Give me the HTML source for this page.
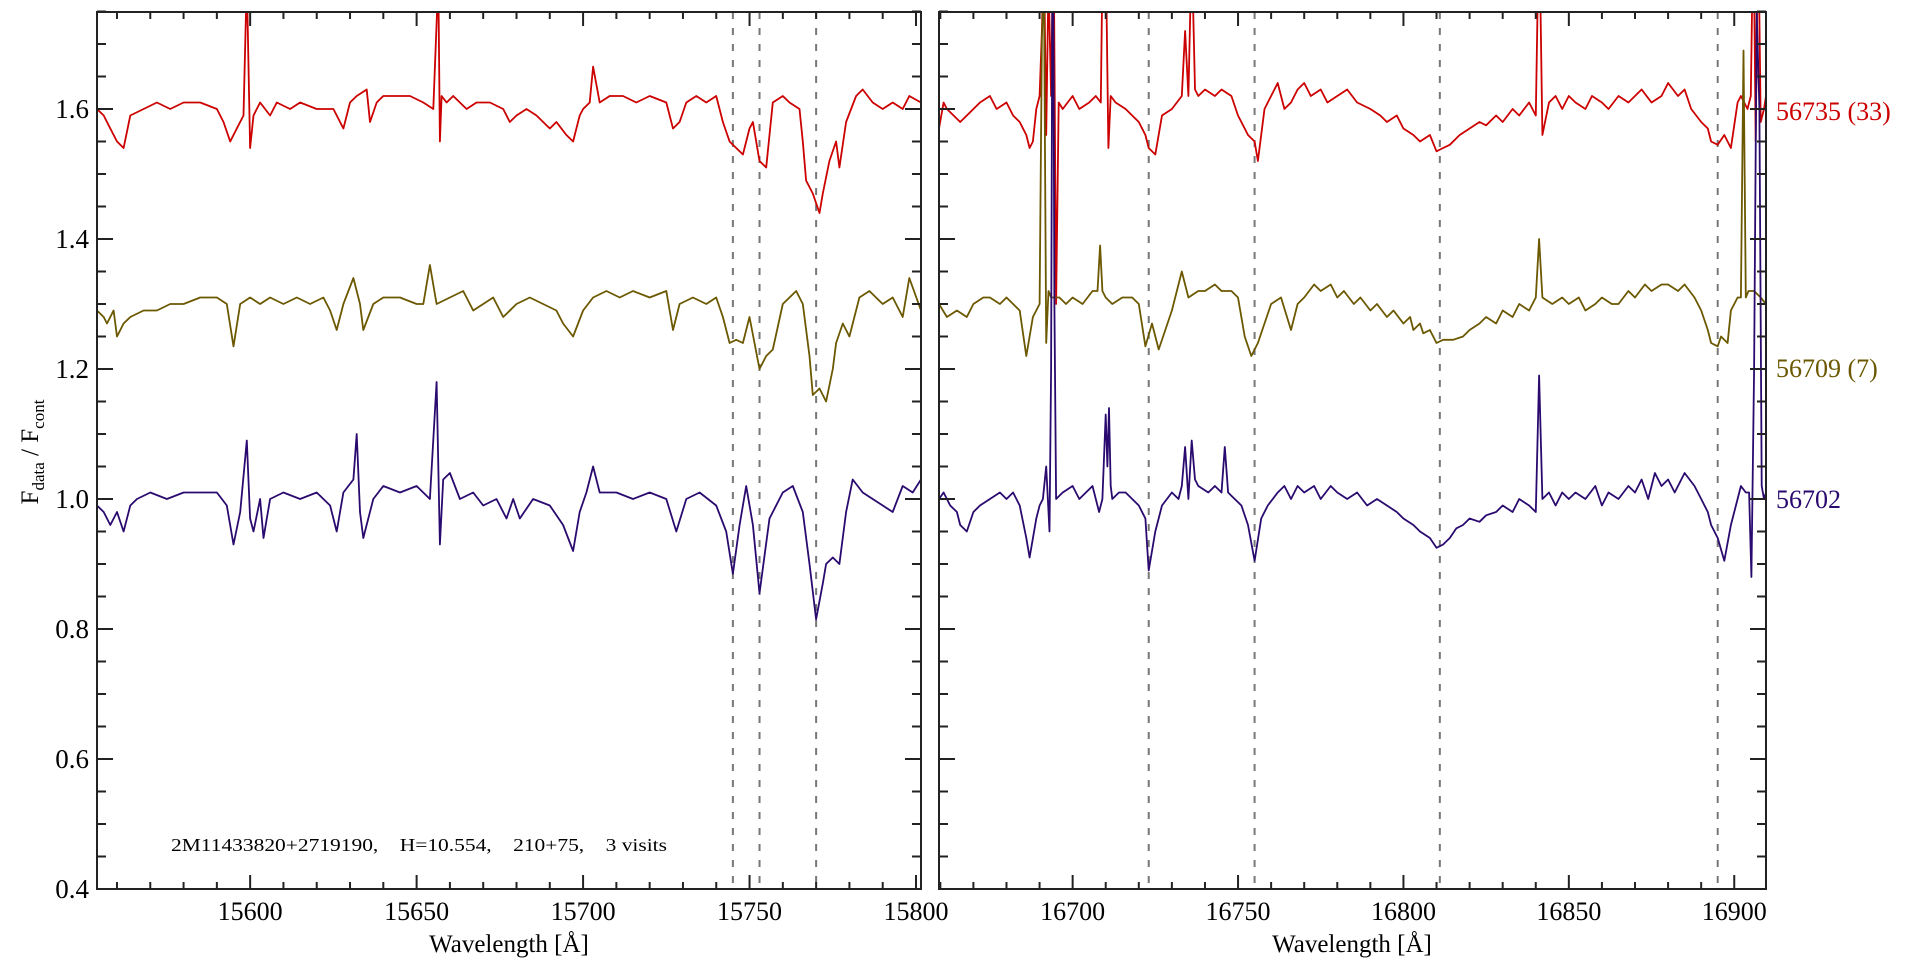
<!DOCTYPE html>
<html><head><meta charset="utf-8"><style>
html,body{margin:0;padding:0;background:#fff;}
svg{display:block;font-family:"Liberation Serif","DejaVu Serif",serif;}
</style></head><body>
<svg id="chart" width="1920" height="960" viewBox="0 0 1920 960" xmlns="http://www.w3.org/2000/svg">
<defs>
<clipPath id="clipL"><rect x="97" y="12" width="824" height="877"/></clipPath>
<clipPath id="clipR"><rect x="939" y="12" width="827" height="877"/></clipPath>
</defs>
<g id="root"></g>
<text transform="translate(38,452) rotate(-90)" text-anchor="middle" font-size="25" fill="#000">F<tspan font-size="17" dy="6">data</tspan><tspan dy="-6"> / F</tspan><tspan font-size="17" dy="6">cont</tspan></text>
<text x="509" y="952" text-anchor="middle" font-size="25" fill="#000">Wavelength [Å]</text>
<text x="1352" y="952" text-anchor="middle" font-size="25" fill="#000">Wavelength [Å]</text>
<text x="171" y="851" font-size="18" fill="#000" style="white-space:pre" xml:space="preserve" textLength="496" lengthAdjust="spacingAndGlyphs">2M11433820+2719190,    H=10.554,    210+75,    3 visits</text>
<text x="1776" y="120" font-size="26" fill="#cc0000">56735 (33)</text>
<text x="1776" y="377" font-size="26" fill="#6b5800">56709 (7)</text>
<text x="1776" y="508" font-size="26" fill="#2a0a6e">56702</text>
</svg>
<script>
// ---- data ----
const yTicks = [0.4,0.6,0.8,1.0,1.2,1.4,1.6];
const xTicksLeft = [15600,15650,15700,15750,15800];
const xTicksRight = [16700,16750,16800,16850,16900];
const dashedLeft = [15745,15753,15770];
const dashedRight = [16723,16755,16811,16895];

const wlBlueL = [15554,15556,15558,15560,15562,15564,15566,15570,15575,15580,15585,15590,15593,15595,15597,15599,15600,15601,15603,15604,15606,15610,15615,15620,15624,15626,15628,15631,15632,15633,15634,15637,15640,15645,15650,15654,15656,15657,15658,15660,15663,15667,15670,15674,15677,15679,15681,15685,15690,15694,15697,15699,15701,15703,15705,15710,15715,15720,15725,15728,15731,15735,15740,15743,15745,15747,15749,15751,15753,15756,15760,15763,15766,15768,15770,15772,15773,15775,15777,15779,15781,15784,15787,15790,15793,15796,15799,15801.5];
const fxBlueL = [0.99,0.98,0.96,0.98,0.95,0.99,1.00,1.01,1.00,1.01,1.01,1.01,0.99,0.93,0.98,1.09,0.97,0.95,1.00,0.94,1.00,1.01,1.00,1.01,0.99,0.95,1.01,1.03,1.10,0.98,0.94,1.00,1.02,1.01,1.02,1.00,1.18,0.93,1.03,1.04,1.00,1.01,0.99,1.00,0.97,1.00,0.97,1.00,0.99,0.96,0.92,0.98,1.01,1.05,1.01,1.01,1.00,1.01,1.00,0.95,1.00,1.01,0.99,0.95,0.885,0.96,1.02,0.96,0.855,0.97,1.01,1.02,0.98,0.90,0.815,0.87,0.90,0.91,0.90,0.98,1.03,1.01,1.00,0.99,0.98,1.02,1.01,1.03];

const wlOliveL = [15554,15556,15557,15559,15560,15562,15564,15568,15572,15576,15580,15585,15590,15593,15595,15597,15600,15603,15606,15610,15614,15618,15622,15624,15626,15628,15631,15633,15634,15637,15640,15645,15650,15652,15654,15656,15660,15664,15667,15670,15673,15676,15680,15684,15688,15692,15694,15697,15700,15703,15707,15711,15715,15720,15725,15727,15729,15733,15737,15740,15742,15744,15746,15748,15750,15753,15755,15757,15760,15764,15766,15768,15769,15771,15773,15775,15776,15778,15780,15783,15786,15790,15793,15796,15798,15801.5];
const fxOliveL = [1.29,1.28,1.27,1.29,1.25,1.27,1.28,1.29,1.29,1.30,1.30,1.31,1.31,1.30,1.235,1.30,1.31,1.30,1.31,1.30,1.31,1.30,1.31,1.29,1.26,1.30,1.34,1.30,1.26,1.30,1.31,1.31,1.30,1.30,1.36,1.30,1.31,1.32,1.29,1.30,1.31,1.28,1.30,1.31,1.30,1.29,1.27,1.25,1.29,1.31,1.32,1.31,1.32,1.31,1.32,1.26,1.30,1.31,1.30,1.31,1.28,1.24,1.245,1.24,1.28,1.20,1.22,1.23,1.30,1.32,1.30,1.22,1.16,1.17,1.15,1.20,1.24,1.27,1.25,1.31,1.32,1.30,1.31,1.28,1.34,1.29];

const wlRedL = [15554,15556,15558,15560,15562,15564,15568,15572,15576,15580,15585,15590,15592,15594,15596,15598,15599,15600,15601,15603,15606,15608,15612,15615,15620,15625,15628,15630,15632,15635,15636,15638,15640,15644,15648,15652,15655,15656.5,15657,15657.5,15659,15661,15665,15668,15672,15676,15678,15680,15683,15686,15690,15692,15695,15697,15699,15700,15702,15703,15705,15708,15712,15716,15720,15725,15727,15729,15731,15734,15737,15740,15742,15744,15746,15748,15750,15751,15753,15755,15757,15760,15762,15765,15766,15767,15769,15771,15772,15774,15776,15777,15779,15782,15784,15787,15790,15793,15796,15798,15801.5];
const fxRedL = [1.60,1.59,1.57,1.55,1.54,1.59,1.60,1.61,1.60,1.61,1.61,1.60,1.58,1.55,1.57,1.59,1.80,1.54,1.59,1.61,1.59,1.61,1.60,1.61,1.60,1.60,1.57,1.61,1.62,1.63,1.58,1.61,1.62,1.62,1.62,1.61,1.60,1.80,1.55,1.62,1.61,1.62,1.60,1.61,1.61,1.60,1.58,1.59,1.60,1.59,1.57,1.58,1.56,1.55,1.59,1.60,1.61,1.665,1.61,1.62,1.62,1.61,1.62,1.61,1.57,1.58,1.61,1.62,1.61,1.62,1.58,1.55,1.54,1.53,1.57,1.58,1.52,1.51,1.61,1.62,1.61,1.60,1.55,1.49,1.47,1.44,1.47,1.52,1.55,1.51,1.58,1.62,1.63,1.61,1.60,1.61,1.60,1.62,1.61];

const wlBlueR = [16659.6,16661,16663,16665,16666,16668,16670,16672,16675,16678,16680,16682,16684,16686,16687,16689,16690,16691,16692,16693,16693.5,16694,16694.5,16695,16697,16700,16702,16704,16706,16708,16709,16710,16710.5,16711,16711.5,16712,16714,16716,16718,16720,16722,16723,16725,16727,16730,16732,16733,16734,16735,16736,16737,16738,16741,16743,16745,16746,16747,16749,16751,16753,16755,16757,16759,16762,16764,16766,16768,16770,16773,16775,16778,16780,16783,16786,16789,16792,16795,16798,16800,16803,16805,16808,16810,16812,16814,16816,16818,16820,16823,16825,16828,16830,16833,16835,16838,16840,16841,16842,16844,16846,16848,16850,16852,16855,16858,16860,16862,16865,16868,16870,16872,16874,16876,16878,16880,16882,16885,16888,16890,16892,16893,16895,16897,16899,16901,16902,16903.5,16904.5,16905.2,16906,16906.8,16907.6,16908.3,16909,16909.6];
const fxBlueR = [1.00,1.01,0.99,0.98,0.96,0.95,0.98,0.99,1.00,1.01,1.00,1.01,0.99,0.94,0.91,0.97,0.99,1.00,1.05,0.95,1.20,2.00,1.30,1.00,1.01,1.02,1.00,1.01,1.02,0.98,1.00,1.13,1.05,1.14,1.02,1.00,1.01,1.01,1.00,0.99,0.97,0.89,0.95,0.99,1.01,1.00,1.02,1.08,1.00,1.09,1.03,1.02,1.01,1.02,1.01,1.08,1.01,1.00,0.99,0.96,0.905,0.97,0.99,1.01,1.02,1.00,1.02,1.01,1.02,1.00,1.02,1.01,1.00,1.01,0.99,1.00,0.99,0.98,0.97,0.96,0.95,0.94,0.925,0.93,0.94,0.955,0.96,0.97,0.965,0.975,0.98,0.99,0.98,1.00,0.99,0.98,1.19,1.00,1.01,0.99,1.01,1.00,1.01,1.00,1.02,0.99,1.01,1.00,1.02,1.01,1.03,1.00,1.04,1.02,1.03,1.01,1.04,1.02,1.00,0.98,0.96,0.94,0.905,0.96,1.00,1.02,1.01,1.01,0.88,1.20,1.75,1.60,1.02,1.00,1.01];

const wlOliveR = [16659.6,16662,16665,16668,16670,16673,16675,16678,16680,16682,16684,16686,16688,16690,16690.7,16691.3,16692,16692.7,16693.5,16696,16698,16700,16703,16706,16707.5,16708.3,16709,16710,16712,16715,16718,16720,16722,16724,16726,16728,16730,16733,16735,16738,16740,16743,16745,16748,16750,16752,16754,16756,16758,16760,16763,16766,16768,16770,16773,16775,16778,16780,16782,16785,16787,16790,16792,16795,16797,16800,16802,16803,16805,16806,16808,16810,16812,16815,16818,16820,16823,16825,16828,16830,16833,16835,16838,16840,16841,16842,16845,16848,16850,16853,16855,16858,16860,16863,16865,16868,16870,16873,16875,16878,16880,16883,16885,16888,16890,16892,16893,16895,16896,16898,16899,16901,16902,16902.8,16903.5,16904.3,16906,16908,16909.6];
const fxOliveR = [1.30,1.28,1.29,1.28,1.30,1.31,1.31,1.30,1.31,1.30,1.29,1.22,1.28,1.30,1.71,1.80,1.24,1.32,1.31,1.31,1.30,1.31,1.30,1.32,1.32,1.39,1.32,1.31,1.30,1.31,1.31,1.30,1.235,1.27,1.23,1.26,1.29,1.35,1.31,1.32,1.32,1.33,1.32,1.32,1.31,1.25,1.22,1.24,1.27,1.30,1.31,1.26,1.30,1.31,1.33,1.32,1.33,1.31,1.32,1.30,1.31,1.29,1.30,1.28,1.29,1.27,1.28,1.26,1.27,1.255,1.26,1.24,1.245,1.245,1.25,1.26,1.27,1.28,1.27,1.29,1.28,1.30,1.29,1.31,1.40,1.31,1.30,1.31,1.30,1.31,1.29,1.30,1.31,1.30,1.30,1.32,1.31,1.33,1.32,1.33,1.33,1.32,1.33,1.31,1.29,1.26,1.24,1.235,1.25,1.24,1.29,1.31,1.31,1.69,1.31,1.32,1.32,1.31,1.30];

const wlRedR = [16659.6,16661,16662,16664,16666,16668,16670,16672,16675,16677,16680,16682,16684,16686,16687,16688,16689,16690,16690.7,16691.3,16692,16692.7,16693.5,16694.2,16695,16695.8,16697,16700,16702,16705,16707,16708.5,16709.2,16710,16710.8,16711.5,16713,16716,16718,16720,16722,16723,16725,16727,16730,16733,16734,16735,16736,16737,16738,16740,16743,16745,16748,16750,16752,16753,16755,16756,16758,16760,16762,16764,16766,16768,16770,16772,16775,16777,16780,16783,16786,16790,16793,16795,16798,16800,16803,16805,16808,16810,16812,16814,16817,16820,16823,16825,16828,16830,16833,16835,16838,16840,16841,16842,16844,16846,16848,16850,16852,16855,16857,16860,16862,16865,16868,16870,16872,16875,16878,16880,16883,16885,16887,16890,16892,16893,16895,16897,16899,16901,16902,16903,16904,16905,16905.8,16906.5,16907.2,16908,16909,16909.6];
const fxRedR = [1.57,1.61,1.60,1.59,1.58,1.59,1.60,1.61,1.62,1.60,1.61,1.59,1.58,1.56,1.54,1.55,1.60,1.62,1.72,1.85,1.56,1.80,1.62,1.90,1.30,1.61,1.60,1.62,1.60,1.61,1.62,1.61,1.90,1.85,1.54,1.62,1.61,1.60,1.59,1.58,1.56,1.54,1.53,1.59,1.60,1.62,1.72,1.62,1.85,1.63,1.62,1.63,1.62,1.63,1.62,1.59,1.57,1.56,1.55,1.52,1.60,1.62,1.64,1.60,1.61,1.63,1.64,1.62,1.63,1.61,1.62,1.63,1.61,1.60,1.59,1.58,1.59,1.57,1.56,1.55,1.56,1.535,1.54,1.545,1.56,1.57,1.58,1.575,1.59,1.58,1.60,1.59,1.61,1.59,1.90,1.56,1.61,1.62,1.60,1.62,1.61,1.60,1.62,1.61,1.60,1.62,1.61,1.62,1.63,1.61,1.62,1.64,1.62,1.63,1.60,1.58,1.57,1.55,1.545,1.56,1.54,1.61,1.62,1.61,1.60,1.62,1.90,1.55,1.90,1.58,1.60,1.62];

// ---- drawing ----
const NS = 'http://www.w3.org/2000/svg';
const root = document.getElementById('root');
const Y0 = 889, PXU = 650;
function yScale(v){ return Y0 - (v - 0.4) * PXU; }
function mk(tag, attrs, parent){ const e = document.createElementNS(NS, tag); for (const k in attrs) e.setAttribute(k, attrs[k]); (parent||root).appendChild(e); return e; }

const panels = [
  {key:'left', x0:97, x1:921, w0:15554, w1:15801.5, ticks:xTicksLeft, dashed:dashedLeft, clip:'clipL', yLabels:true,
   series:[['56735',wlRedL,fxRedL,'#cc0000'],['56709',wlOliveL,fxOliveL,'#6b5800'],['56702',wlBlueL,fxBlueL,'#2a0a6e']]},
  {key:'right', x0:939, x1:1766, w0:16659.6, w1:16909.6, ticks:xTicksRight, dashed:dashedRight, clip:'clipR', yLabels:false,
   series:[['56735',wlRedR,fxRedR,'#cc0000'],['56709',wlOliveR,fxOliveR,'#6b5800'],['56702',wlBlueR,fxBlueR,'#2a0a6e']]}
];

panels.forEach(p => {
  const xs = w => p.x0 + (w - p.w0) / (p.w1 - p.w0) * (p.x1 - p.x0);
  const g = mk('g', {});
  
  
  p.dashed.forEach(w => {
    const l = mk('line', {x1:xs(w), x2:xs(w), y1:12, y2:889, stroke:'#777', 'stroke-width':2, 'stroke-dasharray':'7,9'}, g);
    
    
  });
  const sg = mk('g', {'clip-path':'url(#' + p.clip + ')'}, g);
  p.series.forEach(s => {
    const [name, wl, fx, col] = s;
    let d = '';
    for (let i = 0; i < wl.length; i++) d += (i ? 'L' : 'M') + xs(wl[i]).toFixed(1) + ',' + yScale(fx[i]).toFixed(1);
    const path = mk('path', {d:d, fill:'none', stroke:col, 'stroke-width':1.8, 'stroke-linejoin':'round'}, sg);
    
    
  });
  const fr = mk('rect', {x:p.x0, y:12, width:p.x1 - p.x0, height:877, fill:'none', stroke:'#222', 'stroke-width':2}, g);
  
  
  for (let w = Math.ceil(p.w0 / 10) * 10; w <= p.w1; w += 10) {
    const major = w % 50 === 0;
    const len = major ? 14 : 7;
    const x = xs(w);
    mk('line', {x1:x, x2:x, y1:889, y2:889 - len, stroke:'#222', 'stroke-width':2}, g);
    mk('line', {x1:x, x2:x, y1:12, y2:12 + len, stroke:'#222', 'stroke-width':2}, g);
  }
  p.ticks.forEach(w => {
    const t = mk('text', {x:xs(w), y:920, 'text-anchor':'middle', 'font-size':26, fill:'#000'}, g);
    t.textContent = w;
    
    
  });
  for (let k = 0; k <= 27; k++) {
    const v = 0.4 + k * 0.05;
    const major = k % 4 === 0;
    const len = major ? 16 : 9;
    const y = yScale(v);
    mk('line', {x1:p.x0, x2:p.x0 + len, y1:y, y2:y, stroke:'#222', 'stroke-width':2}, g);
    mk('line', {x1:p.x1, x2:p.x1 - len, y1:y, y2:y, stroke:'#222', 'stroke-width':2}, g);
  }
  if (p.yLabels) {
    yTicks.forEach(v => {
      const t = mk('text', {x:89, y:yScale(v) + 9, 'text-anchor':'end', 'font-size':27, fill:'#000'}, g);
      t.textContent = v.toFixed(1);
      
      
    });
  }
});
</script>
</body></html>
